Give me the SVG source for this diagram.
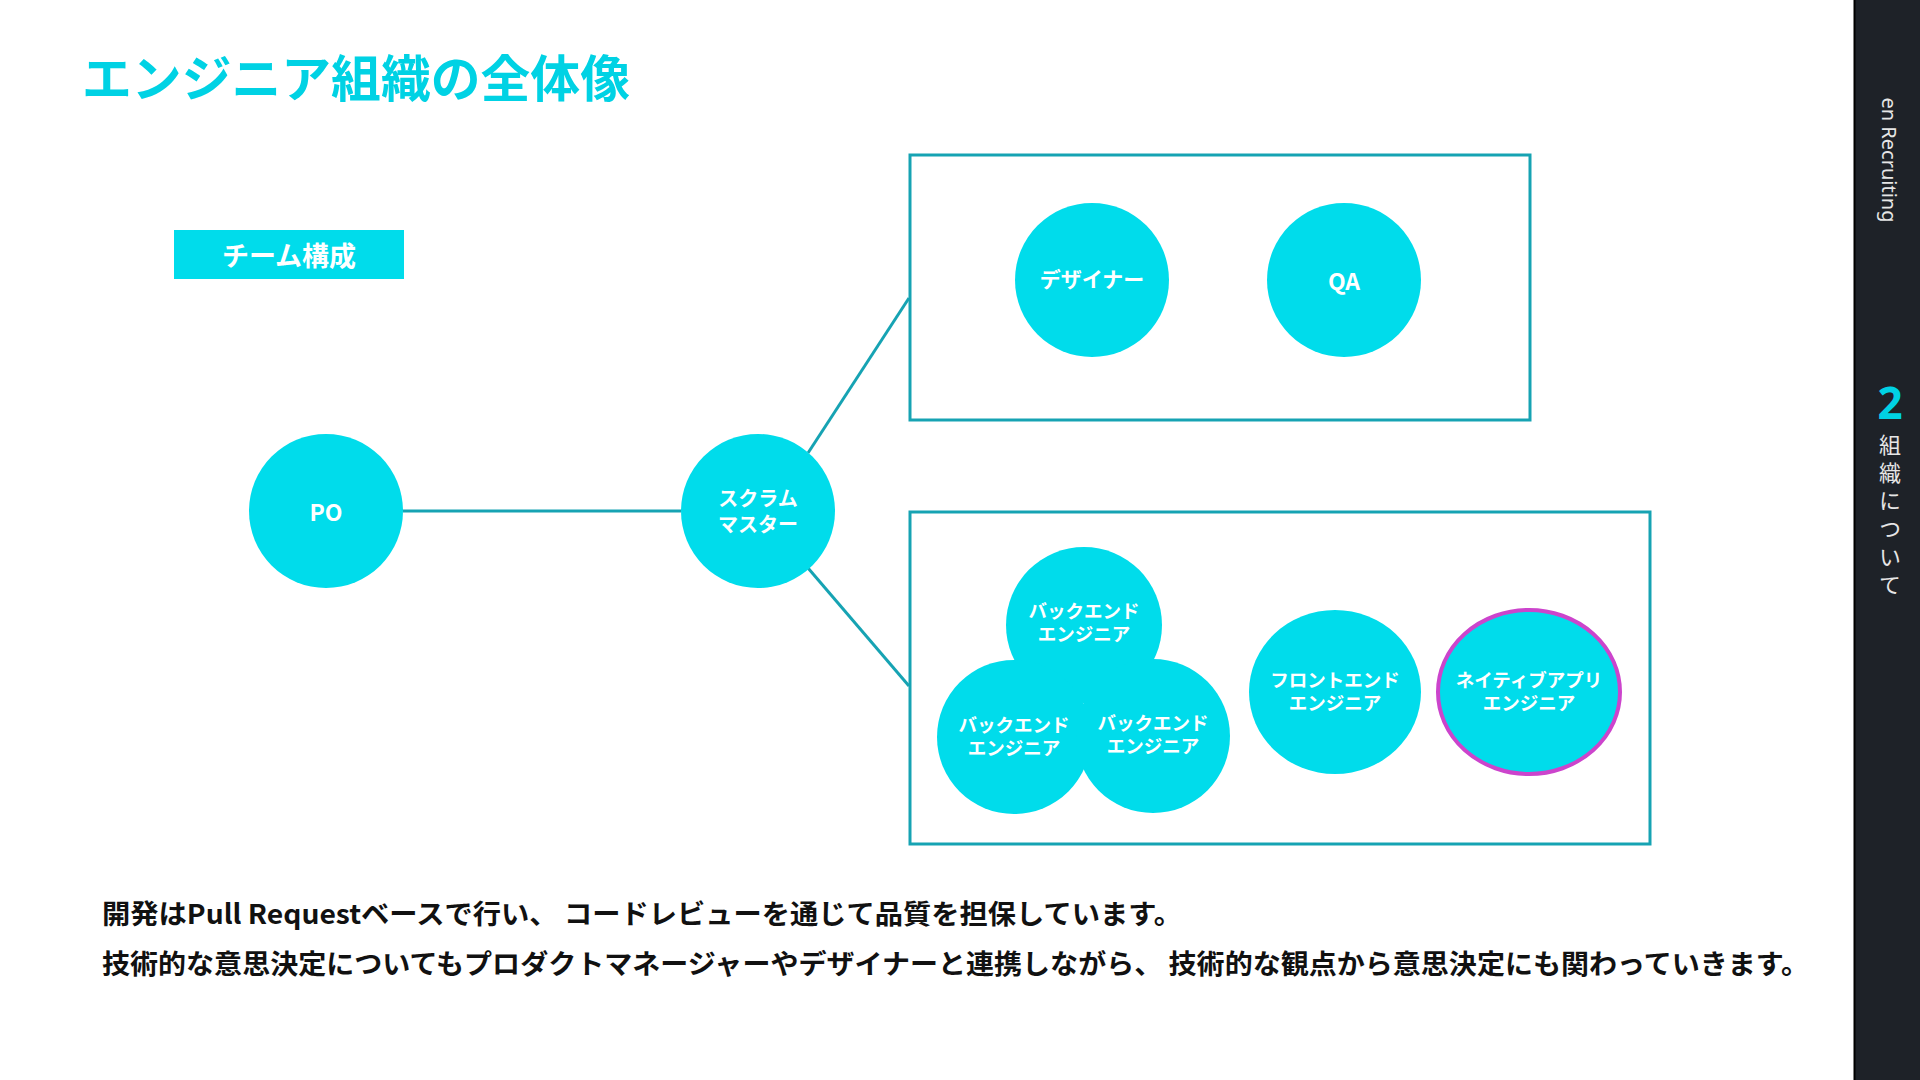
<svg xmlns="http://www.w3.org/2000/svg" width="1920" height="1080" viewBox="0 0 1920 1080">
<style>
.cy{fill:#00DCEB}
.lbl{fill:#fff;font-family:"Noto Sans CJK JP","Noto Sans",sans-serif;font-weight:bold;text-anchor:middle;dominant-baseline:central}
.frame{fill:none;stroke:#16A3B3;stroke-width:3}
.conn{stroke:#16A3B3;stroke-width:3;fill:none}
.body{fill:#111;font-family:"Noto Sans CJK JP","Noto Sans",sans-serif;font-weight:bold;font-size:27px;dominant-baseline:central}
</style>
<rect width="1920" height="1080" fill="#fff"/>
<g id="sidebar">
<rect x="1854" y="0" width="66" height="1080" fill="#1E2228"/>
<line x1="1854.5" y1="0" x2="1854.5" y2="1080" stroke="#000" stroke-width="2"/>
<text transform="translate(1889,160) rotate(90)" font-family="'Noto Sans','Noto Sans CJK JP',sans-serif" font-size="20" fill="#E6E6E6" text-anchor="middle" dominant-baseline="central">en Recruiting</text>
<text x="1890" y="402" font-family="'Noto Sans','Noto Sans CJK JP',sans-serif" font-size="44" font-weight="bold" fill="#00D2E4" text-anchor="middle" dominant-baseline="central">2</text>
<text x="1890" y="434" font-family="'Noto Sans CJK JP',sans-serif" font-size="22" fill="#E6E6E6" writing-mode="vertical-rl" letter-spacing="6">組織について</text>
</g>
<text id="title" x="82" y="75" font-family="'Noto Sans CJK JP',sans-serif" font-size="50" font-weight="bold" fill="#00D2E4" dominant-baseline="central" textLength="548" lengthAdjust="spacingAndGlyphs">エンジニア組織の全体像</text>
<g id="team-label">
<rect x="174" y="230" width="230" height="49" class="cy"/>
<text x="289" y="254" class="lbl" font-size="27">チーム構成</text>
</g>
<g id="connectors">
<line class="conn" x1="403" y1="511" x2="681" y2="511"/>
<line class="conn" x1="808" y1="453" x2="909" y2="298"/>
<line class="conn" x1="808" y1="568" x2="909" y2="686"/>
</g>
<g id="group-top">
<rect class="frame" x="910" y="155" width="620" height="265"/>
</g>
<g id="group-bottom">
<rect class="frame" x="910" y="512" width="740" height="332"/>
</g>
<g id="po">
<circle class="cy" cx="326" cy="511" r="77"/>
<text class="lbl" x="326" y="511" font-size="23">PO</text>
</g>
<g id="scrum-master">
<circle class="cy" cx="758" cy="511" r="77"/>
<text class="lbl" font-size="20"><tspan x="758" y="497">スクラム</tspan><tspan x="758" y="523">マスター</tspan></text>
</g>
<g id="designer">
<circle class="cy" cx="1092" cy="280" r="77"/>
<text class="lbl" x="1092" y="278" font-size="21">デザイナー</text>
</g>
<g id="qa">
<circle class="cy" cx="1344" cy="280" r="77"/>
<text class="lbl" x="1344" y="280" font-size="23">QA</text>
</g>
<g id="backend-1">
<circle class="cy" cx="1084" cy="625" r="78"/>
<text class="lbl" font-size="18.5"><tspan x="1084" y="610">バックエンド</tspan><tspan x="1084" y="633">エンジニア</tspan></text>
</g>
<g id="backend-2">
<circle class="cy" cx="1014" cy="737" r="77"/>
<text class="lbl" font-size="18.5"><tspan x="1014" y="724">バックエンド</tspan><tspan x="1014" y="747">エンジニア</tspan></text>
</g>
<g id="backend-3">
<circle class="cy" cx="1153" cy="736" r="77"/>
<text class="lbl" font-size="18.5"><tspan x="1153" y="722">バックエンド</tspan><tspan x="1153" y="745">エンジニア</tspan></text>
</g>
<g id="frontend">
<ellipse class="cy" cx="1335" cy="692" rx="86" ry="82"/>
<text class="lbl" font-size="18.5"><tspan x="1335" y="679">フロントエンド</tspan><tspan x="1335" y="702">エンジニア</tspan></text>
</g>
<g id="native-app">
<ellipse class="cy" cx="1529" cy="692" rx="91" ry="82" stroke="#CC44CC" stroke-width="4"/>
<text class="lbl" font-size="18.5"><tspan x="1529" y="679">ネイティブアプリ</tspan><tspan x="1529" y="702">エンジニア</tspan></text>
</g>
<g id="description">
<text class="body" x="102" y="912" textLength="1080" lengthAdjust="spacingAndGlyphs">開発はPull Requestベースで行い、 コードレビューを通じて品質を担保しています。</text>
<text class="body" x="102" y="962" textLength="1707" lengthAdjust="spacingAndGlyphs">技術的な意思決定についてもプロダクトマネージャーやデザイナーと連携しながら、 技術的な観点から意思決定にも関わっていきます。</text>
</g>
</svg>
